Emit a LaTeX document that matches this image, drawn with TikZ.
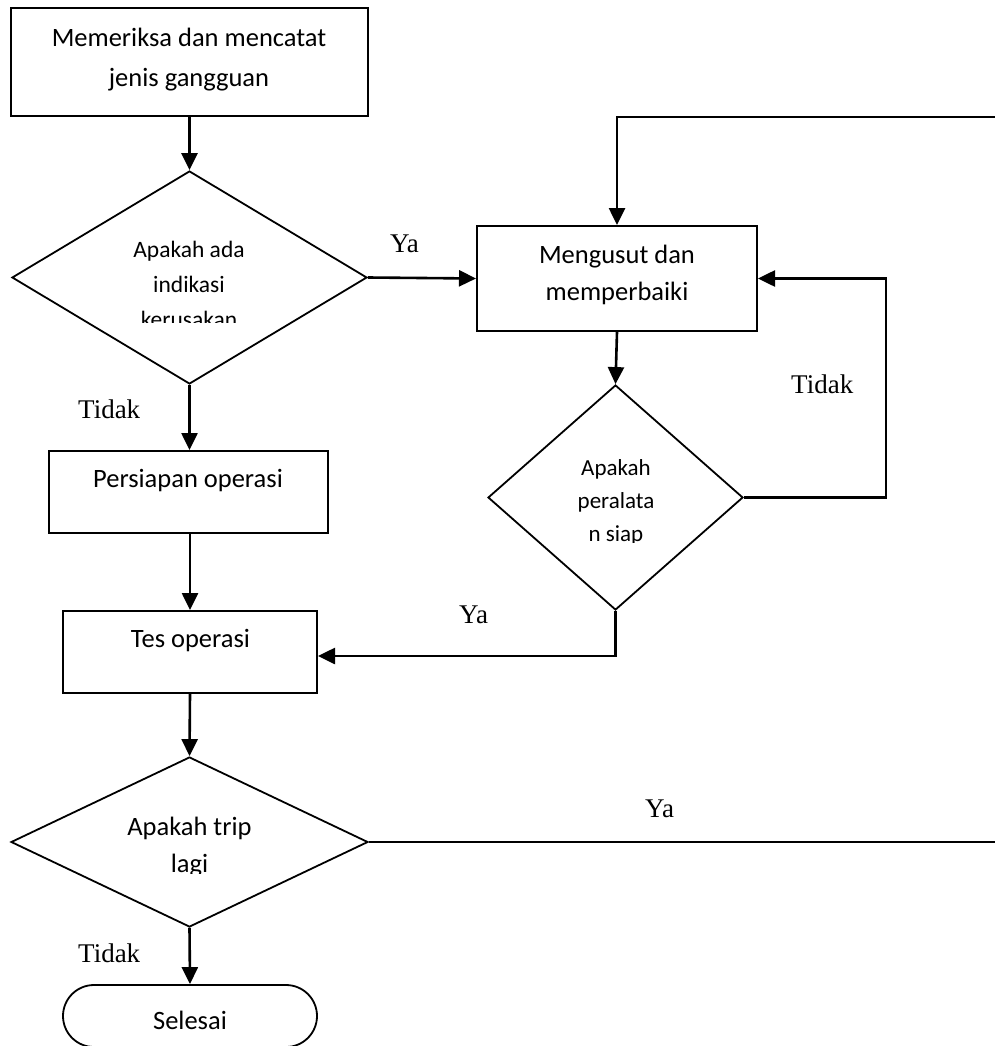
\documentclass[tikz,border=0pt]{standalone}
\usepackage{fontspec}
\setmainfont{Carlito}
\newfontfamily\tnr{Liberation Serif}
\usetikzlibrary{shapes.geometric,arrows.meta}
\begin{document}
\begin{tikzpicture}[x=1pt,y=-1pt,
  box/.style={draw,line width=2pt,rectangle,inner sep=0pt},
  dia/.style={draw,line width=1.8pt,diamond,inner sep=0pt},
  term/.style={draw,line width=1.8pt,rectangle,rounded corners=31pt,inner sep=0pt},
  boxtext/.style={inner sep=0pt,align=center,font=\fontsize{26.5}{40}\selectfont},
  lbl/.style={inner sep=0pt,anchor=base west,font=\tnr\fontsize{27}{32}\selectfont},
  arr/.style={line width=2.6pt,-{Triangle[length=17pt,width=16pt]}},
  ln/.style={line width=2.6pt}]
\useasboundingbox (0,0) rectangle (994,1046);
\fill[white] (0,0) rectangle (994,1046);

% shapes
\node[box,minimum width=357pt,minimum height=108pt] (b1) at (189.5,62.5) {};
\node[dia,minimum width=355pt,minimum height=213pt] (d1) at (189.5,277.5) {};
\node[box,minimum width=280pt,minimum height=105pt] (b2) at (617,278.5) {};
\node[dia,minimum width=255pt,minimum height=225pt] (d2) at (615.5,497.5) {};
\node[box,minimum width=279pt,minimum height=82pt] (b3) at (188.5,492) {};
\node[box,minimum width=254pt,minimum height=82pt] (b4) at (190,652) {};
\node[dia,minimum width=357pt,minimum height=170pt] (d3) at (189.5,842) {};
\node[term,minimum width=254pt,minimum height=62pt] (e) at (190,1016) {};

% texts
\node[boxtext] (t1) at (189,59) {\strut Memeriksa dan mencatat\\\strut jenis gangguan};
\begin{scope}
\clip (0,0) rectangle (994,322);
\node[boxtext,font=\fontsize{23.5}{35}\selectfont] (t2) at (189,285) {\strut Apakah ada\\\strut indikasi\\\strut kerusakan};
\end{scope}
\node[boxtext,font=\fontsize{26.5}{37}\selectfont] (t3) at (617,275) {\strut Mengusut dan\\\strut memperbaiki};
\begin{scope}
\clip (0,330) rectangle (994,542);
\node[boxtext,font=\fontsize{23}{33}\selectfont] (t4) at (616,502) {\strut Apakah\\\strut peralata\\\strut n siap};
\end{scope}
\node[boxtext,anchor=base] (t5) at (188,487) {Persiapan operasi};
\node[boxtext,anchor=base] (t6) at (190.5,647) {Tes operasi};
\begin{scope}
\clip (0,700) rectangle (994,873);
\node[boxtext,font=\fontsize{26.5}{37}\selectfont] (t7) at (189.5,847) {\strut Apakah trip\\\strut lagi};
\end{scope}
\node[boxtext,anchor=base] (t8) at (190,1029) {Selesai};

% labels
\node[lbl] (ya1) at (390,252) {Ya};
\node[lbl] (ya2) at (459,623) {Ya};
\node[lbl] (ya3) at (645,817) {Ya};
\node[lbl] (td1) at (78,418) {Tidak};
\node[lbl] (td2) at (791,393) {Tidak};
\node[lbl] (td3) at (78,962) {Tidak};

% connectors
\coordinate (r1) at (1003,842);
\coordinate (r2) at (1003,117);
\draw[arr] (b1.south) -- (d1.north);
\draw[arr] (d1.east) -- (b2.west);
\draw[arr] (b2.south) -- (d2.north);
\draw[arr] (d2.east) -- (886,497.5) |- (b2.east);
\draw[arr] (d2.south) -- (d2.south |- 0,656) -- (b4.east |- 0,656);
\draw[arr] (d1.south) -- (b3.north -| d1.south);
\draw[arr] (b3.south -| b4.north) -- (b4.north);
\draw[arr] (b4.south) -- (d3.north);
\draw[arr] (d3.south) -- (e.north);
\draw[arr] (d3.east) -- (r1) -- (r2) -| (b2.north);
\end{tikzpicture}
\end{document}
